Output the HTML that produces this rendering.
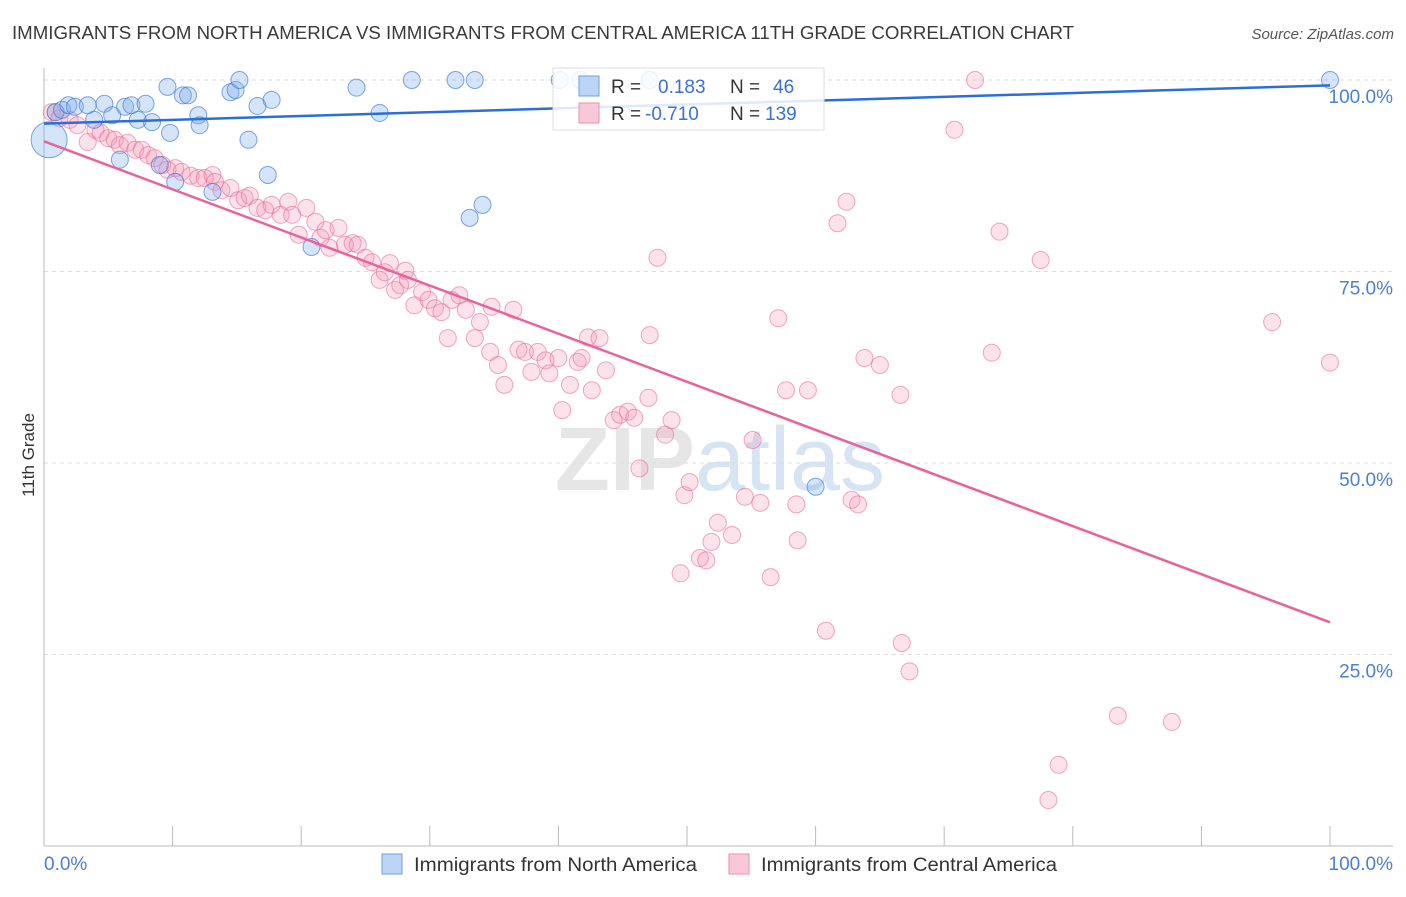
<!DOCTYPE html>
<html><head><meta charset="utf-8">
<style>
body{margin:0;background:#fff;font-family:"Liberation Sans",sans-serif;}
svg text{font-family:"Liberation Sans",sans-serif;}
</style></head>
<body>
<svg id="chart" width="1406" height="892" viewBox="0 0 1406 892" xmlns="http://www.w3.org/2000/svg">
<text x="12" y="39" font-size="18" fill="#3a3a3a" textLength="1062" lengthAdjust="spacingAndGlyphs">IMMIGRANTS FROM NORTH AMERICA VS IMMIGRANTS FROM CENTRAL AMERICA 11TH GRADE CORRELATION CHART</text>
<text x="1394" y="39" font-size="15" fill="#555" text-anchor="end" font-style="italic">Source: ZipAtlas.com</text>
<text transform="translate(34,455) rotate(-90)" font-size="17" fill="#333" text-anchor="middle">11th Grade</text>
<text x="720" y="490" font-size="90" fill="#e6e6e6" text-anchor="middle" font-family="Liberation Serif" font-weight="bold">ZIP<tspan fill="#d6e4f4" font-family="Liberation Sans" font-weight="normal">atlas</tspan></text>
<g id="grid"></g>
<g id="axes"></g>
<g id="pts"></g>
<g id="lines"></g>
<g>
<rect x="553" y="68" width="271" height="62" fill="#fff" fill-opacity="0.85" stroke="#ddd"/>
<rect x="579" y="76" width="20" height="20" fill="#bcd5f5" stroke="#6fa0e0"/>
<text x="611" y="93" font-size="19" fill="#333">R = </text><text x="658" y="93" font-size="19" fill="#3a6fd8">0.183</text>
<text x="730" y="93" font-size="19" fill="#333">N = </text><text x="773" y="93" font-size="19" fill="#3a6fd8">46</text>
<rect x="579" y="103" width="20" height="20" fill="#f9c8d8" stroke="#ea8fb0"/>
<text x="611" y="120" font-size="19" fill="#333">R = </text><text x="645" y="120" font-size="19" fill="#3a6fd8">-0.710</text>
<text x="730" y="120" font-size="19" fill="#333">N = </text><text x="765" y="120" font-size="19" fill="#3a6fd8">139</text>
</g>
<g>
<rect x="382" y="854" width="20" height="20" fill="#bcd5f5" stroke="#6fa0e0"/>
<text x="414" y="871" font-size="19" fill="#333" textLength="283" lengthAdjust="spacingAndGlyphs">Immigrants from North America</text>
<rect x="729" y="854" width="20" height="20" fill="#f9c8d8" stroke="#ea8fb0"/>
<text x="761" y="871" font-size="19" fill="#333" textLength="296" lengthAdjust="spacingAndGlyphs">Immigrants from Central America</text>
</g>
</svg>
<script>
const NS="http://www.w3.org/2000/svg";
const yTicks=[25,50,75,100];
const yTickLabels=["25.0%","50.0%","75.0%","100.0%"];
const xTickVals=[0,10,20,30,40,50,60,70,80,90,100];
const northX=[0.4,0.9,1.4,1.9,2.4,3.4,3.9,4.7,5.3,6.3,6.8,7.3,7.9,8.4,9.0,9.6,9.8,10.2,10.8,11.2,12.0,12.1,13.1,14.5,14.9,15.2,15.9,16.6,17.4,17.7,20.8,24.3,26.1,28.6,32.0,33.5,33.1,34.1,40.1,41.7,47.1,100,60.0,5.9];
const northY=[92.2,95.8,96.1,96.7,96.5,96.7,94.8,96.9,95.4,96.5,96.7,94.8,96.9,94.5,88.9,99.1,93.1,86.7,98.0,98.0,95.4,94.1,85.4,98.4,98.7,100,92.2,96.6,87.6,97.4,78.2,99.0,95.7,100,100,100,82.0,83.7,100,100,100,100,46.9,89.6];
const centralX=[0.6,0.9,1.2,2.0,2.6,3.4,4.0,4.4,5.0,5.5,5.9,6.5,7.1,7.6,8.1,8.6,9.2,9.6,10.2,10.7,11.4,12.0,12.5,13.1,13.3,13.8,14.5,15.1,15.6,16.0,16.6,17.2,17.7,18.4,19.0,19.3,19.8,20.4,21.1,21.5,21.9,22.2,22.9,23.4,24.0,24.4,25.0,25.5,26.1,26.5,26.9,27.3,27.7,28.1,28.3,28.8,29.4,29.9,30.4,30.9,31.4,31.7,32.3,32.8,33.5,33.9,34.7,34.8,35.3,35.8,36.5,36.9,37.4,37.9,38.4,39.0,39.3,40.0,40.3,40.9,41.5,41.8,42.3,42.6,43.2,43.7,44.3,44.8,45.4,45.9,46.3,47.0,47.1,47.7,48.3,48.8,49.5,49.8,50.2,51.0,51.5,51.9,52.4,53.5,54.5,55.1,55.7,56.5,57.1,57.7,58.5,58.6,59.4,60.8,61.7,62.4,62.8,63.3,63.8,65.0,66.6,66.7,67.3,70.8,72.4,73.7,74.3,77.5,78.1,78.9,83.5,87.7,95.5,100];
const centralY=[95.8,95.8,95.0,94.8,94.1,91.9,93.5,93.1,92.4,92.2,91.5,91.8,90.9,90.9,90.2,89.8,88.9,88.3,88.5,88.0,87.5,87.2,87.2,87.6,86.7,85.6,85.9,84.3,84.6,84.9,83.3,83.0,83.7,82.4,84.1,82.4,79.8,83.3,81.5,79.4,80.4,78.1,80.7,78.5,78.7,78.5,76.8,76.2,73.9,74.9,76.1,72.6,73.2,75.1,73.9,70.6,72.3,71.3,70.2,69.7,66.3,71.3,71.9,70.0,66.3,68.4,64.5,70.4,62.8,60.2,70.0,64.8,64.5,61.9,64.5,63.4,61.7,63.7,56.9,60.2,63.2,63.7,66.4,59.5,66.3,62.1,55.6,56.3,56.7,55.9,49.3,58.5,66.7,76.8,53.7,55.6,35.6,45.8,47.5,37.6,37.3,39.7,42.2,40.6,45.6,53.0,44.8,35.1,68.9,59.5,44.6,39.9,59.5,28.1,81.3,84.1,45.2,44.6,63.7,62.8,58.9,26.5,22.8,93.5,100,64.4,80.2,76.5,6.0,10.6,17.0,16.2,68.4,63.1];
const northTrend=[94.3,99.3];
const centralTrend=[92.0,29.2];
const X=v=>44+v*12.86;
const Y=v=>846-v*7.66;
function mk(tag,attrs,parent){const e=document.createElementNS(NS,tag);for(const k in attrs)e.setAttribute(k,attrs[k]);parent.appendChild(e);return e;}
const grid=document.getElementById('grid'),axes=document.getElementById('axes'),pts=document.getElementById('pts'),lines=document.getElementById('lines');
yTicks.forEach((t,i)=>{
 const l=mk('line',{x1:44,x2:1393,y1:Y(t),y2:Y(t),stroke:'#ddd','stroke-dasharray':'4 4'},grid);
 
 
 const tx=mk('text',{x:1393,y:Y(t)+23,'font-size':19,fill:'#4a7fd4','text-anchor':'end'},axes);
 tx.textContent=yTickLabels[i];
 
 
});
const ya=mk('line',{x1:44,x2:44,y1:68,y2:846,stroke:'#bbb'},axes);


const xa=mk('line',{x1:44,x2:1393,y1:846,y2:846,stroke:'#bbb'},axes);


xTickVals.forEach(v=>{
 const t=mk('line',{x1:X(v),x2:X(v),y1:826,y2:846,stroke:'#bbb'},axes);
 
 
});
const x0=mk('text',{x:44,y:870,'font-size':19,fill:'#4a7fd4'},axes);x0.textContent='0.0%';


const x1=mk('text',{x:1393,y:870,'font-size':19,fill:'#4a7fd4','text-anchor':'end'},axes);x1.textContent='100.0%';


centralX.forEach((v,i)=>{
 const c=mk('circle',{cx:X(v),cy:Y(centralY[i]),r:8.5,fill:'rgba(244,143,177,0.25)',stroke:'rgba(232,110,150,0.6)','stroke-width':1},pts);
 
 
});
northX.forEach((v,i)=>{
 const c=mk('circle',{cx:X(v),cy:Y(northY[i]),r:i===0?18:8.5,fill:'rgba(120,170,235,0.32)',stroke:'rgba(60,120,210,0.65)','stroke-width':1},pts);
 
 
});
const nl=mk('line',{x1:X(0),y1:Y(northTrend[0]),x2:X(100),y2:Y(northTrend[1]),stroke:'#2a6fd6','stroke-width':2.5},lines);


const cl=mk('line',{x1:X(0),y1:Y(centralTrend[0]),x2:X(100),y2:Y(centralTrend[1]),stroke:'#e8639a','stroke-width':2.5},lines);


</script>
</body></html>
